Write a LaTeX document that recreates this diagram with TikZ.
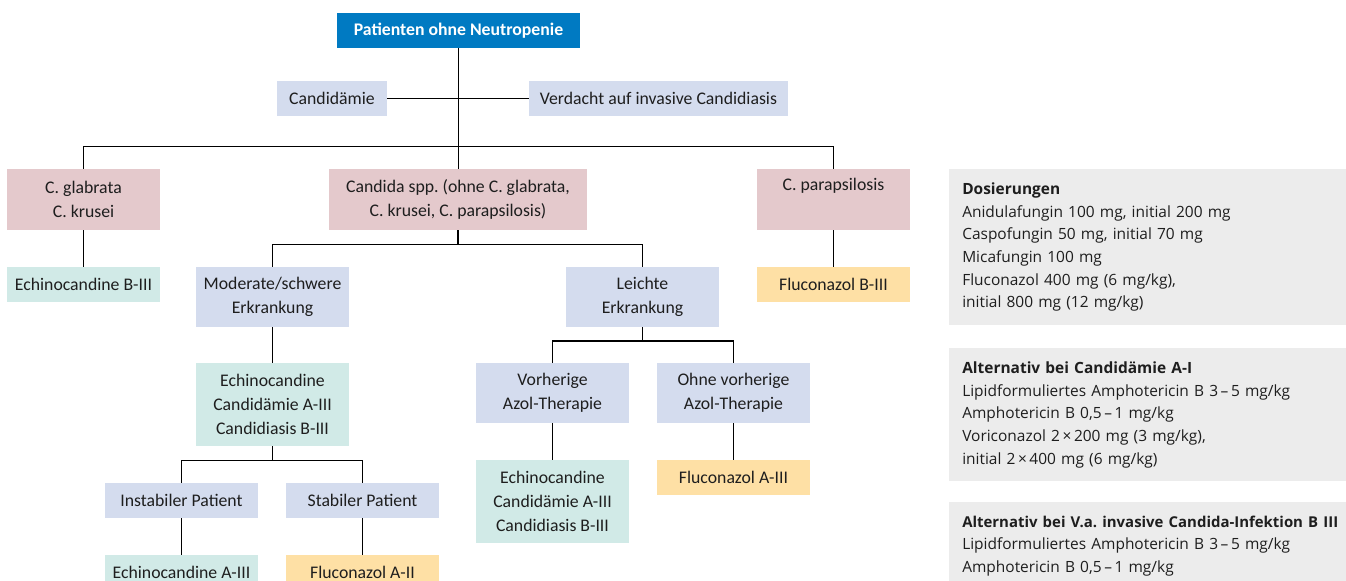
\documentclass[tikz,border=0pt]{standalone}
\usepackage{fontspec}
\setmainfont{Carlito}
\newfontfamily\dosefont{Open Sans}
\usepackage{tikz}
\usetikzlibrary{positioning}
\usepackage{xcolor}
\definecolor{headblue}{RGB}{0,122,194}
\definecolor{paleblue}{RGB}{212,220,238}
\definecolor{palepink}{RGB}{228,201,204}
\definecolor{palemint}{RGB}{209,234,231}
\definecolor{paleyellow}{RGB}{254,224,165}
\definecolor{palegray}{RGB}{236,236,236}
\definecolor{inkgray}{RGB}{30,30,30}

\begin{document}
\begin{tikzpicture}[
  x=0.75pt, y=-0.75pt,
  chartbox/.style={inner sep=0pt, align=center, text=inkgray,
                   font=\fontsize{13.3}{18}\selectfont,
                   minimum width=114.75pt, minimum height=26.25pt},
  bluebox/.style={chartbox, fill=paleblue},
  pinkbox/.style={chartbox, fill=palepink, minimum height=45.75pt},
  mintbox/.style={chartbox, fill=palemint},
  yellowbox/.style={chartbox, fill=paleyellow},
  headbox/.style={chartbox, fill=headblue, text=white,
                  font=\fontsize{13.3}{18}\selectfont\bfseries,
                  minimum width=182.25pt},
  dosebox/.style={fill=palegray, anchor=north west, align=left,
                  text width=320pt, inner xsep=9.75pt, inner ysep=10pt,
                  text=inkgray, font=\dosefont\fontsize{11.6}{17}\selectfont},
  link/.style={line width=1pt, color=black}
]
  \useasboundingbox (0,0) rectangle (1346,581);

  % top of the tree
  \node[headbox] (top)  at (458.5,30.5) {Patienten ohne Neutropenie};
  \node[bluebox, minimum width=82.5pt]  (cand) at (332,98.5)   {Candidämie};
  \node[bluebox, minimum width=194.25pt] (verd) at (658.5,98.5) {Verdacht auf invasive Candidiasis};

  % species
  \node[pinkbox] (glab) at (83.5,199.5) {C. glabrata\\C. krusei};
  \node[pinkbox, minimum width=193.5pt] (spp) at (458,199.5)
    {Candida spp.\ (ohne C. glabrata,\\C. krusei, C. parapsilosis)};
  \node[pinkbox] (para) at (833.5,199.5) {C. parapsilosis\\\strut};

  \node[mintbox]   (echB)  at (83.5,284.5)  {Echinocandine B-III};
  \node[yellowbox] (flucB) at (833.5,284.5) {Fluconazol B-III};

  % severity
  \node[bluebox, minimum height=45pt] (mod)    at (272.5,297) {Moderate/schwere\\Erkrankung};
  \node[bluebox, minimum height=45pt] (leicht) at (642.5,297) {Leichte\\Erkrankung};

  \node[mintbox, minimum height=62.25pt] (echMod) at (272.5,404.5)
    {Echinocandine\\Candidämie A-III\\Candidiasis B-III};
  \node[bluebox] (instab)  at (181.5,500.5) {Instabiler Patient};
  \node[bluebox] (stab)    at (362.5,500.5) {Stabiler Patient};
  \node[mintbox]   (echInst) at (181.5,572.5) {Echinocandine A-III};
  \node[yellowbox] (flucA2)  at (362.5,572.5) {Fluconazol A-II};

  \node[bluebox, minimum height=45pt] (vorh) at (552.5,393) {Vorherige\\Azol-Therapie};
  \node[bluebox, minimum height=45pt] (ohne) at (733.5,393) {Ohne vorherige\\Azol-Therapie};
  \node[mintbox, minimum height=62.25pt] (echVorh) at (552.5,501.5)
    {Echinocandine\\Candidämie A-III\\Candidiasis B-III};
  \node[yellowbox] (flucA3) at (733.5,477.5) {Fluconazol A-III};

  % bar levels
  \coordinate (bar1) at (0,146.7);
  \coordinate (bar2) at (0,244.5);
  \coordinate (bar3) at (0,460.7);
  \coordinate (bar4) at (0,341);

  \draw[link] (top.south) -- (top.south |- spp.north);
  \draw[link] (cand.east) -- (verd.west);
  \draw[link] (glab.north) |- (bar1 -| para.north) -- (para.north);
  \draw[link] (glab.south) -- (echB.north);
  \draw[link] (para.south) -- (para.south |- flucB.north);

  \draw[link] (spp.south) -- (spp.south |- bar2);
  \draw[link] (mod.north) |- (bar2 -| leicht.north) -- (leicht.north);
  \draw[link] (mod.south) -- (echMod.north);
  \draw[link] (echMod.south) -- (echMod.south |- bar3);
  \draw[link] (instab.north) |- (bar3 -| stab.north) -- (stab.north);
  \draw[link] (instab.south) -- (echInst.north);
  \draw[link] (stab.south) -- (flucA2.north);

  \draw[link] (leicht.south) -- (leicht.south |- bar4);
  \draw[link] (vorh.north) |- (bar4 -| ohne.north) -- (ohne.north);
  \draw[link] (vorh.south) -- (echVorh.north);
  \draw[link] (ohne.south) -- (flucA3.north);

  % dosage panels
  \node[dosebox] (dose) at (949,169)
    {\textbf{Dosierungen}\\
     Anidulafungin 100 mg, initial 200 mg\\
     Caspofungin 50 mg, initial 70 mg\\
     Micafungin 100 mg\\
     Fluconazol 400 mg (6 mg/kg),\\
     initial 800 mg (12 mg/kg)};
  \node[dosebox] (altA) at (949,348)
    {\textbf{Alternativ bei Candidämie A-I}\\
     Lipidformuliertes Amphotericin B 3\,–\,5 mg/kg\\
     Amphotericin B 0,5\,–\,1 mg/kg\\
     Voriconazol 2\,×\,200 mg (3 mg/kg),\\
     initial 2\,×\,400 mg (6 mg/kg)};
  \node[dosebox] (altB) at (949,502)
    {{\fontsize{11.2}{17}\selectfont\textbf{Alternativ bei V.a.\ invasive Candida-Infektion B III}}\\
     Lipidformuliertes Amphotericin B 3\,–\,5 mg/kg\\
     Amphotericin B 0,5\,–\,1 mg/kg\\
     \strut};
\end{tikzpicture}
\end{document}
